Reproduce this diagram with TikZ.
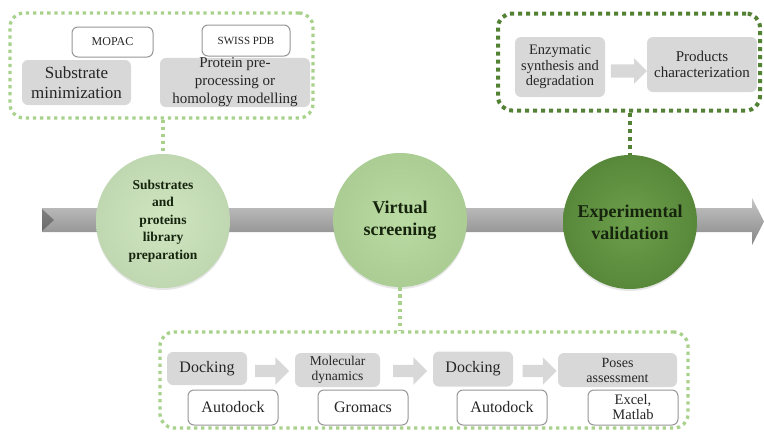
\documentclass[tikz,border=0pt]{standalone}
\usepackage{fontspec}
\setmainfont{Liberation Serif}
\newfontfamily\timesfont{Liberation Serif}
\usetikzlibrary{shapes.arrows,shadows}

\definecolor{framelight}{RGB}{168,210,140}
\definecolor{framedark}{RGB}{84,130,53}
\definecolor{boxgray}{RGB}{216,216,216}
\definecolor{toolgray}{RGB}{150,150,150}
\definecolor{textgray}{RGB}{38,38,38}
\definecolor{phasetext}{RGB}{22,36,14}
\definecolor{libgreen}{RGB}{202,227,186}
\definecolor{vsgreen}{RGB}{180,216,155}
\definecolor{evgreen}{RGB}{100,154,66}

\tikzset{
  stepbox/.style={fill=boxgray, rounded corners=6pt, inner sep=0pt, align=center, text=textgray},
  toolbox/.style={draw=toolgray, line width=1pt, fill=white, rounded corners=6pt, inner sep=0pt, align=center, text=textgray},
  dotframe/.style={line width=3.3pt, dash pattern=on 3.3pt off 3.8pt, rounded corners=14pt, inner sep=0pt},
  dotlink/.style={line width=3.3pt, dash pattern=on 3.3pt off 3.8pt},
  phase/.style={circle, inner sep=0pt, minimum size=134pt, align=center, text=phasetext,
    drop shadow={shadow xshift=0pt, shadow yshift=-2pt, opacity=0.2}},
  flowarrow/.style={single arrow, fill=boxgray, single arrow head extend=7.5pt,
    inner xsep=0pt, inner ysep=6pt, minimum height=34pt},
}

\begin{document}
\begin{tikzpicture}[x=1pt, y=-1pt, font=\timesfont]
    \useasboundingbox (0,0) rectangle (764,432);

    % Timeline bar
    \shade[top color=gray!45, middle color=gray!75, bottom color=gray!95]
        (42,208) -- (752,208) -- (752,198) -- (764,221.5) -- (752,245) -- (752,232) -- (42,232) -- cycle;
    \fill[black, opacity=0.3] (42,209) -- (54,220) -- (42,231) -- cycle;

    % Phases
    \node[phase, inner color=libgreen!92!white, outer color=libgreen!95!black,
        font=\timesfont\fontsize{13.5pt}{17.5pt}\selectfont\bfseries] (lib) at (163,221)
        {Substrates\\and\\proteins\\library\\preparation};
    \node[phase, inner color=vsgreen!92!white, outer color=vsgreen!95!black,
        font=\timesfont\fontsize{18pt}{22pt}\selectfont\bfseries] (vs) at (400,220) {Virtual\\screening};
    \node[phase, inner color=evgreen!95!white, outer color=evgreen!88!black,
        font=\timesfont\fontsize{18pt}{22pt}\selectfont\bfseries] (ev) at (630,222) {Experimental\\validation};

    % Library preparation
    \node[dotframe, draw=framelight, minimum width=303pt, minimum height=105pt] (prep) at (161.5,65.5) {};
    \node[toolbox, minimum width=81pt, minimum height=30pt, font=\timesfont\fontsize{12pt}{14pt}\selectfont] (mopac) at (112.5,42) {MOPAC};
    \node[toolbox, minimum width=88pt, minimum height=31pt, font=\timesfont\fontsize{11pt}{13pt}\selectfont] (swiss) at (246,40.5) {SWISS PDB};
    \node[stepbox, minimum width=109pt, minimum height=45pt, font=\timesfont\fontsize{17pt}{20pt}\selectfont] (subst) at (76.5,82.5)
        {Substrate\\minimization};
    \node[stepbox, minimum width=150pt, minimum height=49pt, font=\timesfont\fontsize{15pt}{18pt}\selectfont] (prot) at (235,82.5)
        {Protein pre-\\processing or\\homology modelling};
    \draw[dotlink, draw=framelight] (lib.north |- prep.south) -- (lib.north);

    % Experimental validation
    \node[dotframe, draw=framedark, line width=4pt, dash pattern=on 4pt off 4pt, minimum width=262pt, minimum height=97pt] (expv) at (629,62) {};
    \node[stepbox, minimum width=90pt, minimum height=60pt, font=\timesfont\fontsize{14.5pt}{15.5pt}\selectfont] (enzy) at (560,67)
        {Enzymatic\\synthesis and\\degradation};
    \node[stepbox, minimum width=110pt, minimum height=55pt, font=\timesfont\fontsize{15pt}{16pt}\selectfont] (prod) at (702,64.5)
        {Products\\characterization};
    \node[flowarrow, single arrow head extend=6pt, inner ysep=6.5pt, minimum height=36pt] (a0) at (625.5,71) {};
    \draw[dotlink, draw=framedark, line width=4pt, dash pattern=on 4pt off 4pt] (ev.north |- expv.south) -- (ev.north);

    % Virtual screening
    \node[dotframe, draw=framelight, minimum width=528pt, minimum height=96pt] (scr) at (424,380) {};
    \node[stepbox, minimum width=80pt, minimum height=33pt, font=\timesfont\fontsize{16pt}{18pt}\selectfont] (dock1) at (207,368.5) {Docking};
    \node[stepbox, minimum width=85pt, minimum height=34pt, font=\timesfont\fontsize{13.5pt}{15pt}\selectfont] (md) at (337.5,370) {Molecular\\dynamics};
    \node[stepbox, minimum width=80pt, minimum height=35pt, font=\timesfont\fontsize{16pt}{18pt}\selectfont] (dock2) at (473,369) {Docking};
    \node[stepbox, minimum width=119pt, minimum height=34pt, font=\timesfont\fontsize{14pt}{15pt}\selectfont] (poses) at (617.5,370) {Poses\\assessment};
    \node[flowarrow] (a1) at (269,371) {};
    \node[flowarrow] (a2) at (407,371) {};
    \node[flowarrow] (a3) at (536.5,371) {};
    \node[toolbox, minimum width=90pt, minimum height=35pt, font=\timesfont\fontsize{16pt}{18pt}\selectfont] (ad1) at (233,407.5) {Autodock};
    \node[toolbox, minimum width=90pt, minimum height=35pt, font=\timesfont\fontsize{16pt}{18pt}\selectfont] (gro) at (363,407.5) {Gromacs};
    \node[toolbox, minimum width=90pt, minimum height=35pt, font=\timesfont\fontsize{16pt}{18pt}\selectfont] (ad2) at (502,407.5) {Autodock};
    \node[toolbox, minimum width=90pt, minimum height=35pt, font=\timesfont\fontsize{14.5pt}{15pt}\selectfont] (excel) at (633,407.5) {Excel,\\Matlab};
    \draw[dotlink, draw=framelight] (vs.south) -- (vs.south |- scr.north);
\end{tikzpicture}
\end{document}
